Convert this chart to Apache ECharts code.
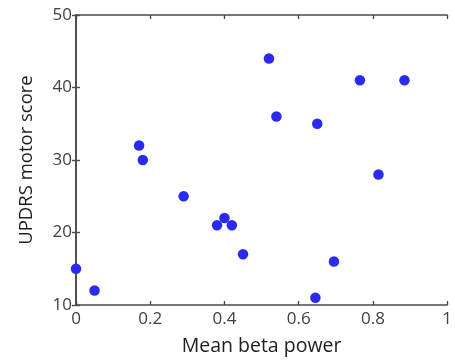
<!DOCTYPE html>
<html>
<head>
<meta charset="utf-8">
<script src="https://cdn.jsdelivr.net/npm/echarts@6/dist/echarts.min.js"></script>
<style>
  html, body { margin: 0; padding: 0; background: #fff; }
  #main { width: 455px; height: 362px; }
</style>
</head>
<body>
<div id="main"></div>
<script>
// mean beta power vs UPDRS motor score
const betaPower = [0, 0.05, 0.17, 0.18, 0.29, 0.38, 0.40, 0.42, 0.45, 0.52, 0.54, 0.65, 0.645, 0.695, 0.765, 0.815, 0.885];
const updrsScore = [15, 12, 32, 30, 25, 21, 22, 21, 17, 44, 36, 35, 11, 16, 41, 28, 41];
const xTicks = [0, 0.2, 0.4, 0.6, 0.8, 1];
const yTicks = [10, 20, 30, 40, 50];

const font = "Open Sans";
const axisColor = "#4a4a4a";
const points = betaPower.map((x, i) => [x, updrsScore[i]]);

function baseAxis(extra) {
  return Object.assign({
    type: "value",
    axisLine: { show: true, lineStyle: { color: axisColor, width: 1.6 } },
    axisTick: { show: true, inside: true, length: 4, lineStyle: { color: axisColor, width: 1.4 } },
    splitLine: { show: false },
  }, extra);
}

const chart = echarts.init(document.getElementById("main"));
chart.setOption({
  animation: false,
  grid: { left: 76, right: 1.5, top: 15, bottom: 57 },
  xAxis: [
    baseAxis({
      position: "bottom",
      min: xTicks[0], max: xTicks[xTicks.length - 1], interval: 0.2,
      name: "Mean beta power",
      nameLocation: "middle",
      nameGap: 31,
      nameTextStyle: { fontFamily: font, fontSize: 19.5, color: "#1e1e1e" },
      axisLabel: { fontFamily: font, fontSize: 17, color: "#404040", margin: 6 },
    }),
    baseAxis({
      position: "top",
      min: xTicks[0], max: xTicks[xTicks.length - 1], interval: 0.2,
      axisLabel: { show: false },
    }),
  ],
  yAxis: [
    baseAxis({
      position: "left",
      min: yTicks[0], max: yTicks[yTicks.length - 1], interval: 10,
      name: "UPDRS motor score",
      nameLocation: "middle",
      nameGap: 40,
      nameTextStyle: { fontFamily: font, fontSize: 18.5, color: "#1e1e1e" },
      axisLabel: { fontFamily: font, fontSize: 17, color: "#404040", margin: 4 },
    }),
    baseAxis({
      position: "right",
      min: yTicks[0], max: yTicks[yTicks.length - 1], interval: 10,
      axisLabel: { show: false },
    }),
  ],
  series: [{
    type: "scatter",
    data: points,
    symbolSize: 10.5,
    itemStyle: { color: "#2b2bef", opacity: 1 },
    clip: false,
  }],
});
</script>
</body>
</html>
